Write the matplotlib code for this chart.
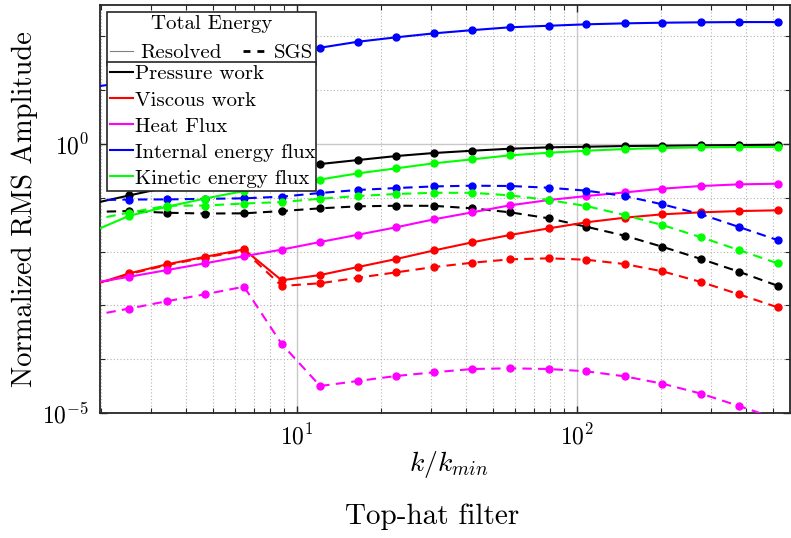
import numpy as np
import matplotlib
matplotlib.use("Agg")
import matplotlib.pyplot as plt
from matplotlib.lines import Line2D
from matplotlib.ticker import FixedLocator, LogFormatterSciNotation, NullFormatter, LogLocator

plt.rcParams['font.family'] = 'serif'
plt.rcParams['font.serif'] = ['cmr10', 'DejaVu Serif']
plt.rcParams['mathtext.fontset'] = 'cm'
plt.rcParams['axes.formatter.use_mathtext'] = True

# wavenumber k/k_min
k = [1.84, 2.52, 3.44, 4.69, 6.47, 8.82, 12.1, 16.5, 22.6, 30.8, 42.3, 57.7,
     79.4, 108, 148, 202, 278, 379, 521]

# resolved (solid) amplitudes
pressure_res = [0.0773, 0.111, 0.157, 0.211, 0.277, 0.351, 0.425, 0.504, 0.598, 0.681,
                0.751, 0.818, 0.868, 0.891, 0.918, 0.930, 0.946, 0.958, 0.971]
viscous_res = [0.00234, 0.00395, 0.00583, 0.00800, 0.0110, 0.00293, 0.00367, 0.00517,
               0.00728, 0.0105, 0.0149, 0.0204, 0.0271, 0.0351, 0.0427, 0.0494,
               0.0538, 0.0568, 0.0586]
heat_res = [0.00259, 0.00341, 0.00455, 0.00606, 0.00821, 0.0109, 0.0151, 0.0206, 0.0283,
            0.0398, 0.0538, 0.0726, 0.0910, 0.108, 0.126, 0.148, 0.166, 0.178, 0.183]
internal_res = [11.4, 14.2, 19.2, 25.9, 34.9, 46.1, 61.7, 79.7, 96.2, 114, 131, 148,
                158, 168, 175, 180, 183, 185, 185]
kinetic_res = [0.0230, 0.0465, 0.0684, 0.0970, 0.134, 0.173, 0.219, 0.285, 0.353, 0.438,
               0.520, 0.617, 0.689, 0.751, 0.807, 0.843, 0.868, 0.880, 0.880]

# subgrid-scale (dashed) amplitudes
pressure_sgs = [0.0547, 0.0568, 0.0528, 0.0511, 0.0515, 0.0568, 0.0638, 0.0695, 0.0713,
                0.0710, 0.0638, 0.0538, 0.0416, 0.0290, 0.0198, 0.0123, 0.00728,
                0.00423, 0.00232]
viscous_sgs = [0.00230, 0.00384, 0.00564, 0.00777, 0.0105, 0.00230, 0.00258, 0.00327,
               0.00412, 0.00517, 0.00622, 0.00719, 0.00751, 0.00707, 0.00588, 0.00430,
               0.00272, 0.00161, 0.000922]
heat_sgs = [0.000646, 0.000875, 0.00120, 0.00161, 0.00223, 0.000192, 3.18e-5, 3.94e-5,
            4.88e-5, 5.71e-5, 6.58e-5, 6.78e-5, 6.58e-5, 5.96e-5, 4.81e-5, 3.51e-5,
            2.29e-5, 1.35e-5, 7.73e-6]
internal_sgs = [0.0902, 0.0930, 0.0934, 0.0958, 0.0979, 0.105, 0.123, 0.140, 0.152, 0.163,
                0.168, 0.166, 0.154, 0.136, 0.108, 0.0757, 0.0494, 0.0287, 0.0164]
kinetic_sgs = [0.0387, 0.0533, 0.0713, 0.0719, 0.0784, 0.0835, 0.0962, 0.108, 0.118,
               0.124, 0.124, 0.111, 0.0910, 0.0704, 0.0479, 0.0312, 0.0184, 0.0107,
               0.00606]

names = ['Pressure work', 'Viscous work', 'Heat Flux', 'Internal energy flux',
         'Kinetic energy flux']
colors = ['#000000', '#ff0000', '#ff00ff', '#0000ff', '#00ff00']
resolved = [pressure_res, viscous_res, heat_res, internal_res, kinetic_res]
sgs = [pressure_sgs, viscous_sgs, heat_sgs, internal_sgs, kinetic_sgs]

fig = plt.figure(figsize=(7.91, 5.38), dpi=100)
ax = fig.add_axes([0.1264, 0.2323, 0.8723, 0.7584])

for i in range(len(names)):
    ax.plot(k, resolved[i], '-', color=colors[i], lw=1.5, marker='o', ms=5, zorder=3)
    ax.plot(k, sgs[i], color=colors[i], lw=1.5, marker='o', ms=5,
            dashes=(4.5, 3), zorder=3)

ax.set_xscale('log')
ax.set_yscale('log')
ax.set_xlim(1.979, 576.6)
ax.set_ylim(1e-5, 384)

ax.yaxis.set_major_locator(FixedLocator([1e-5, 1]))
ax.yaxis.set_major_formatter(LogFormatterSciNotation())
ax.yaxis.set_minor_locator(FixedLocator([1e-4, 1e-3, 1e-2, 1e-1, 1e1, 1e2]))
ax.yaxis.set_minor_formatter(NullFormatter())
ax.xaxis.set_major_locator(FixedLocator([10, 100]))
ax.xaxis.set_minor_locator(LogLocator(base=10, subs=np.arange(2, 10), numticks=20))
ax.xaxis.set_minor_formatter(NullFormatter())

ax.grid(True, which='major', color='#c8c8c8', lw=1.0, ls='-')
ax.grid(True, which='minor', color='#b4b4b4', lw=0.8, ls=(0, (1, 2)))
ax.set_axisbelow(True)

ax.tick_params(which='both', direction='in', top=True, right=True, colors='#262626',
               labelcolor='black', labelsize=17, pad=8)
ax.tick_params(which='major', length=5, width=1.0)
ax.tick_params(which='minor', length=3.5, width=0.8)
for s in ax.spines.values():
    s.set_color('#262626')
    s.set_linewidth(1.3)

ax.set_ylabel('Normalized RMS Amplitude', fontsize=20.5, labelpad=3)
fig.text(0.567, 0.136, r'$k/k_{min}$', fontsize=20, ha='center', va='center')
fig.text(0.546, 0.039, 'Top-hat filter', fontsize=21, ha='center', va='center')

# legend: line style key
h_style = [Line2D([], [], color='#808080', lw=0.8),
           Line2D([], [], color='black', lw=2, dashes=(2.5, 2.5))]
leg1 = ax.legend(h_style, ['Resolved', 'SGS'], title='Total Energy', ncol=2,
                 loc='upper left', bbox_to_anchor=(0.0101, 0.983, 0.303, 0.0),
                 mode='expand', fontsize=15, title_fontsize=15, frameon=True,
                 fancybox=False, framealpha=1, edgecolor='#262626',
                 handlelength=1.1, handletextpad=0.35, columnspacing=0.4,
                 borderpad=0.15, borderaxespad=0)
leg1.get_frame().set_linewidth(1.2)
ax.add_artist(leg1)

h_col = [Line2D([], [], color=c, lw=1.5) for c in colors]
leg2 = ax.legend(h_col, names, loc='upper left',
                 bbox_to_anchor=(0.0101, 0.861, 0.303, 0.0), mode='expand',
                 fontsize=15, frameon=True, fancybox=False, framealpha=1,
                 edgecolor='#262626', handlelength=1.1, handletextpad=0.1,
                 labelspacing=0.36, borderpad=0.15, borderaxespad=0)
leg2.get_frame().set_linewidth(1.2)

fig.savefig('out.png', dpi=100)
